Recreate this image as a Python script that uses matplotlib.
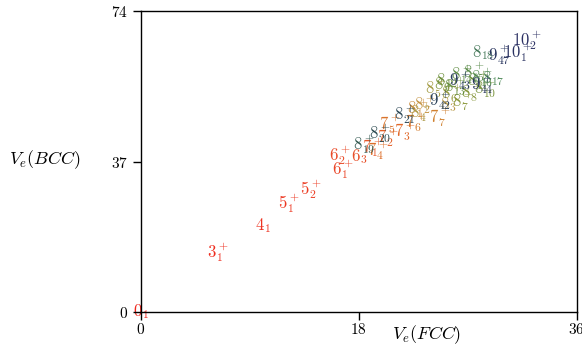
import matplotlib
matplotlib.use("Agg")
import matplotlib.pyplot as plt
from matplotlib.colors import LinearSegmentedColormap

plt.rcParams["mathtext.fontset"] = "cm"
plt.rcParams["font.family"] = "serif"

# knot labels with (V_e(FCC), V_e(BCC)) estimates
knots = ["0_1", "3_1^+", "4_1", "5_1^+", "5_2^+", "6_1^+", "6_2^+", "6_3",
         "7_1^+", "7_2^+", "7_3^+", "7_4^+", "7_5^+", "7_6^+", "7_7^+",
         "8_1^+", "8_2^+", "8_3", "8_4^+", "8_5^+", "8_6^+", "8_7^+", "8_8^+",
         "8_9", "8_{10}^+", "8_{11}^+", "8_{12}", "8_{13}^+", "8_{14}^+",
         "8_{15}^+", "8_{16}^+", "8_{17}", "8_{18}", "8_{19}^+", "8_{20}^+",
         "8_{21}^+", "9_{42}^+", "9_{43}^+", "9_{44}^+", "9_{47}^+",
         "10_1^+", "10_2^+"]
v_fcc = [0.0, 6.36, 10.07, 12.22, 14.04, 16.68, 16.43, 18.0,
         19.16, 20.40, 21.80, 19.57, 20.56, 22.71, 24.69,
         22.87, 23.45, 25.35, 23.12, 24.36, 25.68, 26.59, 27.33,
         24.85, 28.41, 27.83, 25.27, 25.93, 26.51,
         27.50, 28.16, 29.07, 28.24, 18.41, 19.74,
         21.80, 24.69, 26.34, 28.16, 29.64,
         31.13, 31.87]
v_bcc = [0.0, 14.75, 21.14, 26.79, 30.24, 35.15, 38.59, 38.35,
         40.56, 43.02, 44.49, 39.82, 46.21, 46.71, 47.94,
         50.15, 51.13, 51.13, 49.16, 55.06, 53.83, 51.87, 54.08,
         56.05, 55.06, 57.03, 57.03, 55.56, 58.51,
         59.00, 57.77, 57.52, 63.91, 41.30, 44.00,
         48.67, 52.11, 57.03, 56.05, 63.18,
         63.91, 66.86]

cmap = LinearSegmentedColormap.from_list("knots", [
    (0.0, "#f0281e"), (0.17, "#e8502a"), (0.25, "#e06a28"),
    (0.34, "#d08030"), (0.40, "#c29a4a"), (0.50, "#8f9a3c"),
    (0.65, "#6a8f3e"), (0.76, "#4e8a5a"), (0.82, "#2f4f50"),
    (0.90, "#283c5c"), (1.0, "#2a2f62")])

fig, ax = plt.subplots(figsize=(5.82, 3.49), dpi=100)
fig.subplots_adjust(left=0.242, right=0.991, bottom=0.106, top=0.968)

n = len(knots)
for i, (k, x, y) in enumerate(zip(knots, v_fcc, v_bcc)):
    ax.text(x, y, "$" + k + "$", color=cmap(i / (n - 1)), fontsize=12,
            ha="center", va="center", clip_on=False, zorder=1)

ax.set_xlim(0, 36)
ax.set_ylim(0, 74)
ax.set_xticks([0, 18, 36])
ax.set_xticklabels(["$0$", "$18$", "$36$"])
ax.set_yticks([0, 37, 74])
ax.set_yticklabels(["$0$", "$37$", "$74$"])
ax.tick_params(direction="out", length=6, width=1, labelsize=11, pad=3)
ax.tick_params(axis="x", pad=1)
for s in ax.spines.values():
    s.set_zorder(3)
    s.set_linewidth(1.0)

ax.set_xlabel("$V_e(FCC)$", fontsize=13, va="center")
ax.xaxis.set_label_coords(0.656, -0.074)
ax.set_ylabel("$V_e(BCC)$", fontsize=13, rotation=0, va="center",
              ha="center")
ax.yaxis.set_label_coords(-0.22, 0.505)

fig.savefig("out.png", dpi=100)
